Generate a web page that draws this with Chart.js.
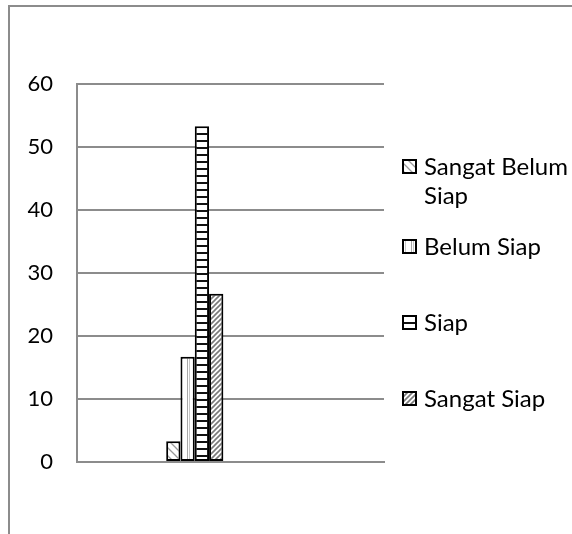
<!DOCTYPE html>
<html>
<head>
<meta charset="utf-8">
<script src="https://cdn.jsdelivr.net/npm/chart.js@4.4.1/dist/chart.umd.min.js"></script>
<style>
  html, body { margin: 0; padding: 0; background: #fff; overflow: hidden; }
  #frame {
    position: absolute; left: 8px; top: 5px; width: 700px; height: 700px;
    border-left: 2px solid #8c8c8c; border-top: 2px solid #8c8c8c;
  }
  #chart { position: absolute; left: 0; top: 0; }
</style>
</head>
<body>
<div id="frame"></div>
<canvas id="chart" width="572" height="534"></canvas>
<script>
//Data
const categories = ['']
const seriesNames = ['Sangat Belum Siap', 'Belum Siap', 'Siap', 'Sangat Siap']
const sangatBelumSiap = [3.3]
const belumSiap = [16.7]
const siap = [53.3]
const sangatSiap = [26.7]
const yTicks = [0, 10, 20, 30, 40, 50, 60]

// empty slots so the group sits left of centre like the original
const spacerCount = 5

//Patterns
function makePattern(kind) {
  const c = document.createElement('canvas')
  const g = c.getContext('2d')
  if (kind == 'down') {
    c.width = 8; c.height = 8
    g.fillStyle = '#fff'; g.fillRect(0, 0, 8, 8)
    g.strokeStyle = '#9a9a9a'; g.lineWidth = 1.3
    g.beginPath()
    g.moveTo(-1, -1); g.lineTo(9, 9)
    g.moveTo(-1, 7); g.lineTo(1, 9)
    g.moveTo(7, -1); g.lineTo(9, 1)
    g.stroke()
  } else if (kind == 'vert') {
    c.width = 8; c.height = 4
    g.fillStyle = '#fff'; g.fillRect(0, 0, 8, 4)
    g.fillStyle = '#a8a8a8'; g.fillRect(3, 0, 1, 4)
    g.fillStyle = '#c8c8c8'; g.fillRect(5, 0, 1, 4)
  } else if (kind == 'horz') {
    c.width = 4; c.height = 7
    g.fillStyle = '#fff'; g.fillRect(0, 0, 4, 7)
    g.fillStyle = '#111'; g.fillRect(0, 0, 4, 2)
  } else {
    c.width = 5; c.height = 5
    g.fillStyle = '#fff'; g.fillRect(0, 0, 5, 5)
    g.strokeStyle = '#7a7a7a'; g.lineWidth = 1.6
    g.beginPath()
    g.moveTo(-1, 6); g.lineTo(6, -1)
    g.moveTo(-1, 1); g.lineTo(1, -1)
    g.moveTo(4, 6); g.lineTo(6, 4)
    g.stroke()
  }
  return g.createPattern(c, 'repeat')
}

const patterns = [makePattern('down'), makePattern('vert'), makePattern('horz'), makePattern('up')]
const seriesValues = [sangatBelumSiap, belumSiap, siap, sangatSiap]

let datasets = seriesNames.map((name, i) => ({
  label: name,
  data: seriesValues[i],
  backgroundColor: patterns[i],
  borderColor: '#000',
  borderWidth: 2,
  borderSkipped: false
}))
for (let i = 0; i < spacerCount; i++) {
  datasets.push({ label: 'spacer' + i, data: [null], backgroundColor: 'transparent' })
}

//Legend drawn on the right like the Excel one
const legendY = [166, 246, 322, 398]
const legendPlugin = {
  id: 'sideLegend',
  afterDraw(chart) {
    const ctx = chart.ctx
    ctx.save()
    ctx.font = '24px Lato'
    ctx.fillStyle = '#000'
    ctx.textBaseline = 'middle'
    const maxW = 150
    seriesNames.forEach((name, i) => {
      // wrap words
      let lines = []
      let cur = ''
      name.split(' ').forEach(w => {
        let t = cur ? cur + ' ' + w : w
        if (ctx.measureText(t).width > maxW && cur) {
          lines.push(cur)
          cur = w
        } else {
          cur = t
        }
      })
      lines.push(cur)
      const y = legendY[i]
      ctx.fillStyle = patterns[i]
      ctx.fillRect(403, y - 6, 13, 13)
      ctx.strokeStyle = '#000'
      ctx.lineWidth = 2
      ctx.strokeRect(403, y - 6, 13, 13)
      ctx.fillStyle = '#000'
      lines.forEach((l, k) => ctx.fillText(l, 424, y + 1 + k * 29))
    })
    ctx.restore()
  }
}

const chart = new Chart(document.getElementById('chart'), {
  type: 'bar',
  data: { labels: categories, datasets: datasets },
  plugins: [legendPlugin],
  options: {
    responsive: false,
    animation: false,
    categoryPercentage: 0.419,
    barPercentage: 1,
    layout: { padding: { left: 10, right: 188, top: 84, bottom: 72 } },
    plugins: {
      legend: { display: false },
      tooltip: { enabled: false }
    },
    scales: {
      x: {
        grid: { display: false, drawTicks: false },
        ticks: { display: false },
        border: { display: true, color: '#8c8c8c', width: 2 },
        afterFit: s => { s.height = 0 }
      },
      y: {
        min: 0,
        max: 60,
        afterBuildTicks: s => { s.ticks = yTicks.map(v => ({ value: v })) },
        grid: { color: '#8c8c8c', lineWidth: 2, drawTicks: false },
        border: { display: true, color: '#8c8c8c', width: 2 },
        ticks: {
          color: '#000',
          padding: 24,
          font: { family: 'Lato', size: 22 }
        },
        afterFit: s => { s.width = 67 }
      }
    }
  }
})
</script>
</body>
</html>
